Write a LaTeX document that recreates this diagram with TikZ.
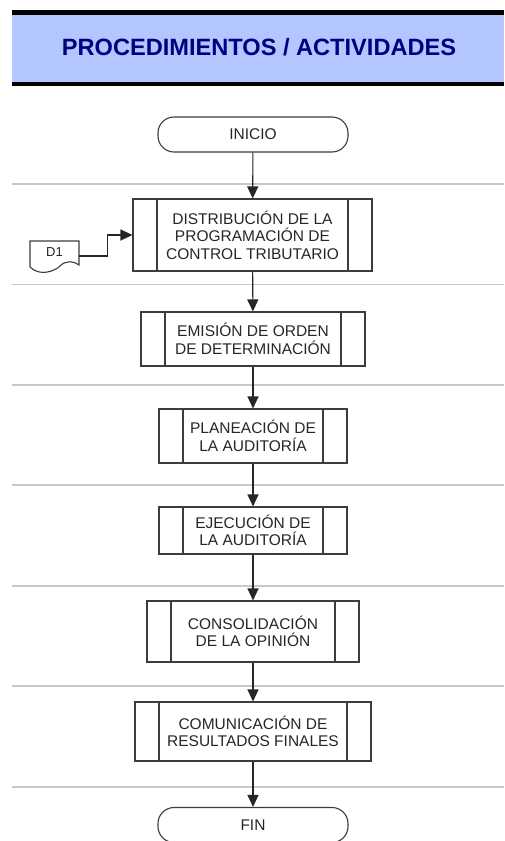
\documentclass[tikz,border=0pt]{standalone}
\usepackage{fontspec}
\setmainfont{Liberation Sans}
\usetikzlibrary{arrows.meta}

\definecolor{bandblue}{RGB}{179,198,255}
\definecolor{titlenavy}{RGB}{0,0,128}
\definecolor{sepgray}{RGB}{200,200,200}
\definecolor{edgegray}{RGB}{60,60,60}

\tikzset{
  boxtext/.style={font=\fontsize{15.5}{17.5}\selectfont, text=black!85, align=center},
  procbox/.style={boxtext, draw=edgegray, line width=1.1pt, fill=white, inner sep=0pt,
    path picture={
      \draw[edgegray, line width=1.1pt]
        ([xshift=24pt]path picture bounding box.north west) -- ([xshift=24pt]path picture bounding box.south west)
        ([xshift=-24pt]path picture bounding box.north east) -- ([xshift=-24pt]path picture bounding box.south east);
    }},
  termbox/.style={boxtext, draw=edgegray, line width=1.1pt, fill=white, rounded corners=16pt,
    minimum width=190pt, minimum height=35pt, inner sep=0pt},
  flow/.style={draw=black!85, line width=1.1pt, -{Triangle[length=12pt,width=11pt]}},
  sepline/.style={draw=sepgray, line width=1.5pt},
}

\begin{document}
\begin{tikzpicture}[x=1pt, y=-1pt]
  \clip (0,0) rectangle (504,841);
  \fill[white] (0,0) rectangle (504,841);

  % header band
  \fill[bandblue] (12,12) rectangle (504,84);
  \fill[black] (12,10) rectangle (504,14.5);
  \fill[black] (12,81.5) rectangle (504,86);
  \node[font=\fontsize{23.6}{25}\selectfont\bfseries, text=titlenavy] (title) at (259,47)
    {PROCEDIMIENTOS / ACTIVIDADES};

  % lane separators
  \foreach \yy in {184,284.5,385,485,586,686,787}
    \draw[sepline] (12,\yy) -- (504,\yy);

  % flow nodes
  \node[termbox] (ini) at (253,134.5) {INICIO};
  \node[procbox, minimum width=239pt, minimum height=72pt] (p1) at (252.5,235)
    {DISTRIBUCIÓN DE LA\\PROGRAMACIÓN DE\\CONTROL TRIBUTARIO};
  \node[procbox, minimum width=224pt, minimum height=54pt] (p2) at (253,339)
    {EMISIÓN DE ORDEN\\DE DETERMINACIÓN};
  \node[procbox, minimum width=188pt, minimum height=54pt] (p3) at (253,436)
    {PLANEACIÓN DE\\LA AUDITORÍA};
  \node[procbox, minimum width=188pt, minimum height=47pt] (p4) at (253,530.5)
    {EJECUCIÓN DE\\LA AUDITORÍA};
  \node[procbox, minimum width=212pt, minimum height=61pt] (p5) at (253,631.5)
    {CONSOLIDACIÓN\\DE LA OPINIÓN};
  \node[procbox, minimum width=236pt, minimum height=59pt] (p6) at (253,731.5)
    {COMUNICACIÓN DE\\RESULTADOS FINALES};
  \node[termbox] (fin) at (253,825) {FIN};

  % input document D1
  \draw[edgegray, line width=1.1pt, fill=white]
    (30,241) -- (79,241) -- (79,265)
    .. controls (74,261) and (66,260) .. (60,266)
    .. controls (55,271) and (40,277) .. (30,267) -- cycle;
  \node[font=\fontsize{13}{14}\selectfont, text=black!85, minimum width=49pt, minimum height=26pt,
    inner sep=0pt] (d1) at (54.5,252) {D1};

  % connectors
  \draw[flow] (ini) -- (p1);
  \draw[flow] (p1) -- (p2);
  \draw[flow] (p2) -- (p3);
  \draw[flow] (p3) -- (p4);
  \draw[flow] (p4) -- (p5);
  \draw[flow] (p5) -- (p6);
  \draw[flow] (p6) -- (fin);
  \draw[flow] ([yshift=-4pt]d1.east) -- ++(28,0) |- (p1.west);
\end{tikzpicture}
\end{document}
